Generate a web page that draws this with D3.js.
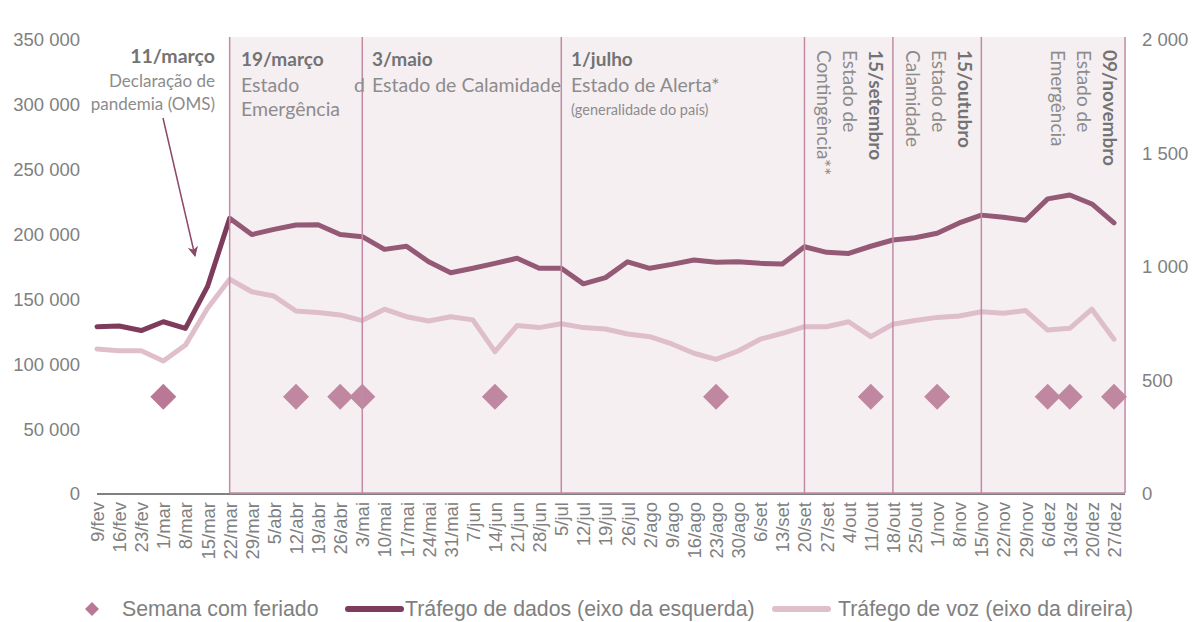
<!DOCTYPE html>
<html>
<head>
<meta charset="utf-8">
<script src="https://cdn.jsdelivr.net/npm/d3@7"></script>
<style>
  body { margin: 0; background: #fff; }
  svg { display: block; }
  .tick text { font-family: "Liberation Sans", Arial, sans-serif; fill: #808080; }
  .note { font-family: Lato, "Open Sans", sans-serif; }
</style>
</head>
<body>
<script>
var width = 1198,
    height = 622;

// semanas (eixo x)
var weeks = ["9/fev","16/fev","23/fev","1/mar","8/mar","15/mar","22/mar","29/mar",
  "5/abr","12/abr","19/abr","26/abr","3/mai","10/mai","17/mai","24/mai","31/mai",
  "7/jun","14/jun","21/jun","28/jun","5/jul","12/jul","19/jul","26/jul",
  "2/ago","9/ago","16/ago","23/ago","30/ago","6/set","13/set","20/set","27/set",
  "4/out","11/out","18/out","25/out","1/nov","8/nov","15/nov","22/nov","29/nov",
  "6/dez","13/dez","20/dez","27/dez"];

// tráfego de dados (eixo da esquerda)
var dataTraffic = [129000,129500,126000,132800,127700,160000,212500,200000,
  204000,207400,207600,200000,198400,188600,191000,179000,170600,
  174000,177800,181700,174000,174000,162000,166800,179000,
  174000,177000,180400,178600,179000,177800,177300,190600,186300,
  185500,191000,195800,197600,201000,209000,215000,213300,211000,
  227500,230500,223600,209000];

// tráfego de voz (eixo da direita)
var voiceTraffic = [639,631,631,586,656,818,946,891,
  872,806,800,789,764,814,781,762,781,
  767,627,742,733,750,733,727,705,
  693,661,620,593,630,682,708,737,737,
  759,693,748,764,778,784,803,796,808,
  722,730,814,682];

// semanas com feriado
var holidayWeeks = ["1/mar","12/abr","26/abr","3/mai","14/jun","23/ago","11/out","1/nov","6/dez","13/dez","27/dez"];
var holidayLevel = 75000;

// períodos (estado de emergência, calamidade, ...)
var periodStarts = ["22/mar","3/mai","5/jul","20/set","18/out","15/nov"];

var leftTicks = [0,50000,100000,150000,200000,250000,300000,350000];
var rightTicks = [0,500,1000,1500,2000];

var svg = d3.select("body").append("svg")
    .attr("width", width)
    .attr("height", height);

var x = d3.scalePoint()
    .domain(weeks)
    .range([97, 1114]);
var step = x.step();

var yL = d3.scaleLinear().domain([0, 350000]).range([494, 40]);
var yR = d3.scaleLinear().domain([0, 2000]).range([494, 40]);

var spaceFmt = function(d) { return d3.format(",")(d).replace(/,/g, " "); };

// eixo esquerdo
svg.append("g")
    .attr("transform", "translate(82,0)")
    .call(d3.axisLeft(yL).tickValues(leftTicks).tickSize(0).tickPadding(2).tickFormat(spaceFmt))
    .call(function(g) { g.select(".domain").remove(); })
    .selectAll("text").style("font-size", "18.5px");

// eixo direito
svg.append("g")
    .attr("transform", "translate(1140,0)")
    .call(d3.axisRight(yR).tickValues(rightTicks).tickSize(0).tickPadding(2).tickFormat(spaceFmt))
    .call(function(g) { g.select(".domain").remove(); })
    .selectAll("text").style("font-size", "18.5px");

// eixo x
var xAxis = svg.append("g")
    .attr("transform", "translate(0,494)")
    .call(d3.axisBottom(x).tickSize(0))
    .call(function(g) { g.select(".domain").remove(); });
xAxis.selectAll("text")
    .style("font-size", "18.5px")
    .attr("text-anchor", "end")
    .attr("transform", "rotate(-90)")
    .attr("x", -8)
    .attr("y", 0)
    .attr("dy", "0.35em");

svg.append("line")
    .attr("x1", x(weeks[0])).attr("x2", x(weeks[weeks.length - 1]) + step / 2)
    .attr("y1", 494).attr("y2", 494)
    .attr("stroke", "#808080").attr("stroke-width", 2);

// linhas
var lineL = d3.line()
    .x(function(d, i) { return x(weeks[i]); })
    .y(function(d) { return yL(d); });
var lineR = d3.line()
    .x(function(d, i) { return x(weeks[i]); })
    .y(function(d) { return yR(d); });

svg.append("path")
    .datum(voiceTraffic)
    .attr("d", lineR)
    .attr("fill", "none")
    .attr("stroke", "#e0bfcc")
    .attr("stroke-width", 5)
    .attr("stroke-linejoin", "round")
    .attr("stroke-linecap", "round");

svg.append("path")
    .datum(dataTraffic)
    .attr("d", lineL)
    .attr("fill", "none")
    .attr("stroke", "#7e3c5c")
    .attr("stroke-width", 5)
    .attr("stroke-linejoin", "round")
    .attr("stroke-linecap", "round");

// losangos (feriados)
svg.selectAll("path.holiday")
    .data(holidayWeeks)
    .enter()
  .append("path")
    .attr("class", "holiday")
    .attr("d", "M0,-13L13,0L0,13L-13,0Z")
    .attr("transform", function(d) { return "translate(" + x(d) + "," + yL(holidayLevel) + ")"; })
    .attr("fill", "#b97895");

// períodos sombreados
var bounds = periodStarts.map(function(d) { return x(d); });
bounds.push(x(weeks[weeks.length - 1]) + step / 2);

var boxes = d3.range(periodStarts.length).map(function(i) {
  return { x0: bounds[i], x1: bounds[i + 1] };
});

svg.selectAll("rect.period")
    .data(boxes)
    .enter()
  .append("rect")
    .attr("class", "period")
    .attr("x", function(d) { return d.x0; })
    .attr("width", function(d) { return d.x1 - d.x0; })
    .attr("y", 37)
    .attr("height", 494 - 37)
    .attr("fill", "rgb(216,187,201)")
    .attr("fill-opacity", 0.235);

svg.selectAll("line.border")
    .data(bounds)
    .enter()
  .append("line")
    .attr("class", "border")
    .attr("x1", function(d) { return d; }).attr("x2", function(d) { return d; })
    .attr("y1", 37).attr("y2", 493)
    .attr("stroke", "#c28aa5").attr("stroke-width", 1.5);

svg.append("line")
    .attr("x1", bounds[0]).attr("x2", bounds[bounds.length - 1])
    .attr("y1", 493).attr("y2", 493)
    .attr("stroke", "#c28aa5").attr("stroke-width", 1.5);

// anotações
var notes = svg.append("g").attr("class", "note");

function addText(px, py, txt, opts) {
  return notes.append("text")
      .attr("x", px).attr("y", py)
      .attr("text-anchor", opts.anchor || "start")
      .style("font-size", (opts.size || 19.5) + "px")
      .style("font-weight", opts.bold ? "bold" : "normal")
      .attr("fill", opts.bold ? "#737373" : "#8c8c8c")
      .text(txt);
}

addText(215, 63, "11/março", { anchor: "end", bold: true, size: 19.5 });
addText(215, 87, "Declaração de", { anchor: "end", size: 17 });
addText(215, 110, "pandemia (OMS)", { anchor: "end", size: 17 });

addText(241, 66, "19/março", { bold: true, size: 19 });
addText(241, 92, "Estado", {});
addText(241, 116, "Emergência", {});
addText(354, 92, "d", {});

addText(372, 66, "3/maio", { bold: true, size: 19 });
addText(372, 92, "Estado de Calamidade", {});

addText(571, 66, "1/julho", { bold: true, size: 19 });
addText(571, 92, "Estado de Alerta*", {});
addText(571, 115, "(generalidade do país)", { size: 14.5 });

var vertNotes = [
  { x: 869, lines: ["15/setembro", "Estado de", "Contingência**"] },
  { x: 958, lines: ["15/outubro", "Estado de", "Calamidade"] },
  { x: 1103, lines: ["09/novembro", "Estado de", "Emergência"] }
];

vertNotes.forEach(function(n) {
  var g = notes.append("g").attr("transform", "translate(" + n.x + ",50) rotate(90)");
  n.lines.forEach(function(t, i) {
    g.append("text")
        .attr("x", 0).attr("y", i * 26)
        .style("font-size", "19px")
        .style("font-weight", i === 0 ? "bold" : "normal")
        .attr("fill", i === 0 ? "#737373" : "#8c8c8c")
        .text(t);
  });
});

// seta
var defs = svg.append("defs");
defs.append("marker")
    .attr("id", "arrow")
    .attr("viewBox", "0 -5 10 10")
    .attr("refX", 9).attr("refY", 0)
    .attr("markerWidth", 7).attr("markerHeight", 7)
    .attr("orient", "auto")
  .append("path")
    .attr("d", "M0,-5L10,0L0,5L3,0Z")
    .attr("fill", "#8b4868");

svg.append("line")
    .attr("x1", 163).attr("y1", 118)
    .attr("x2", 195).attr("y2", 256)
    .attr("stroke", "#8b4868")
    .attr("stroke-width", 1.5)
    .attr("marker-end", "url(#arrow)");

// legenda
var legend = svg.append("g")
    .style("font-family", "'Liberation Sans', Arial, sans-serif")
    .style("font-size", "21.3px");

legend.append("path")
    .attr("d", "M0,-7L7,0L0,7L-7,0Z")
    .attr("transform", "translate(92,609)")
    .attr("fill", "#b97895");
legend.append("text").attr("x", 122).attr("y", 609).attr("dy", "0.35em")
    .attr("fill", "#808080").text("Semana com feriado");

legend.append("line").attr("x1", 348).attr("x2", 401).attr("y1", 609).attr("y2", 609)
    .attr("stroke", "#7e3c5c").attr("stroke-width", 6).attr("stroke-linecap", "round");
legend.append("text").attr("x", 405).attr("y", 609).attr("dy", "0.35em")
    .attr("fill", "#808080").text("Tráfego de dados (eixo da esquerda)");

legend.append("line").attr("x1", 775).attr("x2", 828).attr("y1", 609).attr("y2", 609)
    .attr("stroke", "#e0bfcc").attr("stroke-width", 6).attr("stroke-linecap", "round");
legend.append("text").attr("x", 838).attr("y", 609).attr("dy", "0.35em")
    .attr("fill", "#808080").text("Tráfego de voz (eixo da direira)");
</script>
</body>
</html>
